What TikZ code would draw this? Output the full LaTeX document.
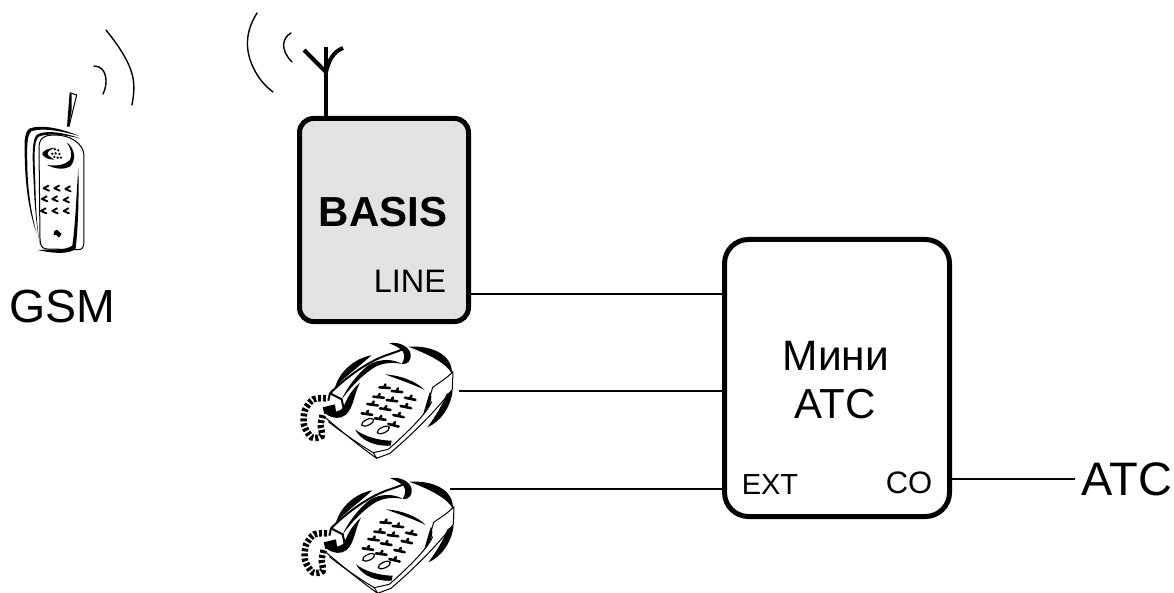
\documentclass[tikz,border=0pt]{standalone}
\usepackage{fontspec}
\setmainfont{Liberation Sans}
\newcommand{\fsz}[1]{\fontsize{#1}{#1}\selectfont}
\tikzset{
  blockbox/.style={draw=black,line width=5pt,rounded corners=#1,inner sep=0pt},
  wire/.style={draw=black,line width=2pt},
  lab/.style={inner sep=0pt,outer sep=0pt,text=black},
  thinline/.style={draw=black,line width=1pt,line join=round},
  wave/.style={draw=black,line width=1.4pt,line cap=round},
}
\newcommand{\deskphone}{%
  % thin body
  \draw[thinline] (135,262) .. controls (180,300) and (240,350) .. (290,385) -- (330,370) .. controls (400,310) and (470,240) .. (517,178) -- (519,125) .. controls (500,145) and (475,160) .. (458,172) .. controls (452,195) and (445,215) .. (436,240);
  \draw[thinline] (145,275) .. controls (190,310) and (240,345) .. (280,368) -- (325,358);
  \draw[thinline] (280,368) -- (290,385);
  \draw[thinline] (325,358) .. controls (390,300) and (440,250) .. (455,215);
  % back crescents
  \fill[black] (385,50) .. controls (450,46) and (518,70) .. (516,132) .. controls (500,100) and (450,75) .. (385,50) -- cycle;
  \fill[black] (518,182) .. controls (512,232) and (482,275) .. (442,292) .. controls (468,258) and (488,222) .. (500,192) -- cycle;
  \fill[black] (165,172) .. controls (180,122) and (225,85) .. (274,76) .. controls (235,112) and (195,140) .. (165,172) -- cycle;
  \fill[black] (450,185) .. controls (460,205) and (450,232) .. (430,252) .. controls (438,225) and (443,205) .. (450,185) -- cycle;
  % handset
  \draw[black,line width=2pt,line join=round] (150,190) .. controls (200,140) and (270,90) .. (330,72) .. controls (350,65) and (365,60) .. (372,55);
  \fill[black] (328,40) .. controls (355,34) and (387,48) .. (392,72) .. controls (394,92) and (384,104) .. (365,102) .. controls (373,90) and (376,75) .. (368,64) .. controls (358,52) and (345,47) .. (328,40) -- cycle;
  \fill[black] (365,102) .. controls (345,88) and (298,82) .. (262,108) .. controls (232,133) and (203,170) .. (185,208) .. controls (215,168) and (252,130) .. (287,110) .. controls (312,98) and (340,96) .. (365,102) -- cycle;
  \fill[black] (240,158) .. controls (222,190) and (222,232) .. (197,255) .. controls (180,268) and (158,266) .. (138,252) -- (145,238) .. controls (165,248) and (178,245) .. (188,235) .. controls (198,215) and (208,185) .. (240,158) -- cycle;
  \draw[black,line width=2pt,line join=round] (150,190) -- (185,208) -- (192,240);
  \draw[black,line width=2pt] (150,190) -- (145,212);
  \fill[black] (128,232) -- (165,223) -- (168,245) -- (133,252) -- cycle;
  % cord
  \draw[black,line width=6.5pt,dash pattern=on 3pt off 2pt] plot[smooth] coordinates {(138,205) (100,208) (75,240) (72,285) (95,322) (125,318) (122,285) (128,255)};
  % bars
  \fill[black] (315,133) .. controls (360,136) and (408,153) .. (434,180) .. controls (400,163) and (360,150) .. (315,133) -- cycle;
  \fill[black] (225,298) .. controls (250,318) and (295,332) .. (335,332) -- (332,347) .. controls (285,350) and (243,332) .. (225,298) -- cycle;
  % keys
  \foreach \x/\y/\r in {298/172/-4,335/183/-6,375/203/-12,280/200/-6,320/210/-7,362/228/-12,262/222/-8,300/235/-9,340/255/-12,245/250/-8,285/265/-8,325/282/-14}{
    \draw[black,line width=2.6pt,rotate around={\r:(\x,\y)},line cap=round] (\x,\y) -- (\x+32,\y) (\x+14,\y) -- (\x+18,\y-10);
  }
  % ovals
  \draw[black,line width=1.2pt,rotate around={25:(263,277)}] (263,277) ellipse [x radius=6.6pt,y radius=2.9pt];
  \draw[black,line width=1.2pt,rotate around={25:(310,300)}] (310,300) ellipse [x radius=6.6pt,y radius=2.9pt];
}
\newcommand{\gsmphone}{%
  % antenna
  \fill[black] (164,22) -- (170,22) -- (170,75) -- (162,125) -- (156,125) -- cycle;
  \draw[black,line width=1pt] (170,25) -- (185,30) -- (162,125);
  % outer shell
  \fill[black] (192,153) .. controls (140,130) and (80,118) .. (45,130) .. controls (25,140) and (28,180) .. (30,240) .. controls (33,320) and (45,390) .. (65,445) .. controls (50,390) and (38,320) .. (37,240) .. controls (36,185) and (35,150) .. (50,138) .. controls (85,128) and (140,138) .. (192,153) -- cycle;
  \fill[black] (195,160) .. controls (140,140) and (85,135) .. (65,150) .. controls (50,165) and (52,220) .. (56,290) .. controls (58,360) and (65,430) .. (75,480) .. controls (66,430) and (62,360) .. (61,290) .. controls (58,220) and (56,170) .. (70,156) .. controls (90,144) and (140,148) .. (195,160) -- cycle;
  % body
  \draw[thinline] (72,190) .. controls (72,160) and (85,150) .. (120,150) .. controls (165,150) and (205,175) .. (207,210) -- (207,470) .. controls (207,488) and (200,494) .. (190,494) -- (95,492) .. controls (78,490) and (76,480) .. (75,460) -- cycle;
  % bottom crescent
  \fill[black] (68,495) .. controls (110,505) and (165,510) .. (182,490) .. controls (190,420) and (192,330) .. (190,248) .. controls (184,330) and (182,410) .. (172,482) .. controls (150,498) and (110,492) .. (68,495) -- cycle;
  % earpiece
  \fill[black] (122,188) .. controls (95,190) and (80,200) .. (82,208) .. controls (88,220) and (105,224) .. (118,224) .. controls (105,216) and (96,210) .. (98,204) .. controls (100,198) and (110,192) .. (122,188) -- cycle;
  \foreach \x/\y in {120/193,130/196,112/206,122/205,133/207,118/216,128/218,138/218}{
    \fill[black] (\x,\y) circle[radius=1.3pt];
  }
  \fill[black] (155,172) .. controls (180,190) and (185,225) .. (165,245) .. controls (145,255) and (120,252) .. (96,240) .. controls (125,244) and (150,240) .. (165,225) .. controls (173,210) and (168,190) .. (155,172) -- cycle;
  % keys
  \foreach \x/\y in {90/310,122/310,155/312,85/342,116/342,150/345,82/378,116/378,150/378}{
    \draw[black,line width=1.9pt,line cap=round,line join=round] (\x+10,\y-8) -- (\x-4,\y) -- (\x+12,\y+7);
  }
  % mic
  \fill[black] (118,438) -- (126,434) -- (132,440) -- (140,446) -- (132,458) -- (124,450) -- (116,450) -- cycle;
}
\begin{document}
\begin{tikzpicture}[x=1pt,y=-1pt]
\useasboundingbox (0,0) rectangle (1174,593);
% antenna and waves of the base unit
\draw[black,line width=4pt] (326,47) -- (326,117);
\draw[black,line width=4pt] (304,50) -- (326,72);
\draw[black,line width=4pt] (343,48) .. controls (333,52) and (329,60) .. (326,72);
\draw[wave] (257,13) .. controls (245,32) and (245,50) .. (253,67) .. controls (258,78) and (265,86) .. (273,92);
\draw[wave] (291,33) .. controls (282,38) and (280,50) .. (292,62);
% waves of the handset
\draw[wave] (106,30) .. controls (118,45) and (130,62) .. (133,78) .. controls (135,90) and (133,98) .. (132,105);
\draw[wave] (94,66) .. controls (108,66) and (108,85) .. (103,94);
% boxes
\node[blockbox=14pt,fill=black!11,minimum width=169pt,minimum height=203pt] (basis) at (384,220) {};
\node[blockbox=24pt,minimum width=225pt,minimum height=277pt] (mini) at (837,378) {};
% labels
\node[lab,anchor=base,font=\bfseries\fsz{42}] (basistxt) at (383,227) {BASIS};
\node[lab,anchor=base,font=\fsz{32.5}] (linetxt) at (410,293) {LINE};
\node[lab,anchor=base,font=\fsz{42.5}] (minitxt) at (836,370) {Мини};
\node[lab,anchor=base,font=\fsz{42}] (atctxt) at (835,418) {АТС};
\node[lab,anchor=base,font=\fsz{29}] (exttxt) at (770,494) {EXT};
\node[lab,anchor=base,font=\fsz{31}] (cotxt) at (909,493) {CO};
\node[lab,font=\fsz{47}] (atc) at (1127,479) {АТС};
\node[lab,anchor=base,font=\fsz{46.5}] (gsm) at (62,322) {GSM};
% pictures
\begin{scope}[shift={(15,85)},x=0.3333pt,y=-0.3333pt]\gsmphone\end{scope}
\begin{scope}[shift={(280,330)},x=0.3333pt,y=-0.3333pt]\deskphone\end{scope}
\begin{scope}[shift={(281,465)},x=0.3333pt,y=-0.3333pt]\deskphone\end{scope}
% connector ends
\coordinate (lineport) at (471,294);
\coordinate (phoneone) at (459,391);
\coordinate (phonetwo) at (450,489);
% connectors
\draw[wire] (lineport) -- (lineport -| mini.west);
\draw[wire] (phoneone) -- (phoneone -| mini.west);
\draw[wire] (phonetwo) -- (phonetwo -| mini.west);
\draw[wire] (mini.east |- atc) -- ([xshift=-7pt]atc.west);
\end{tikzpicture}
\end{document}
